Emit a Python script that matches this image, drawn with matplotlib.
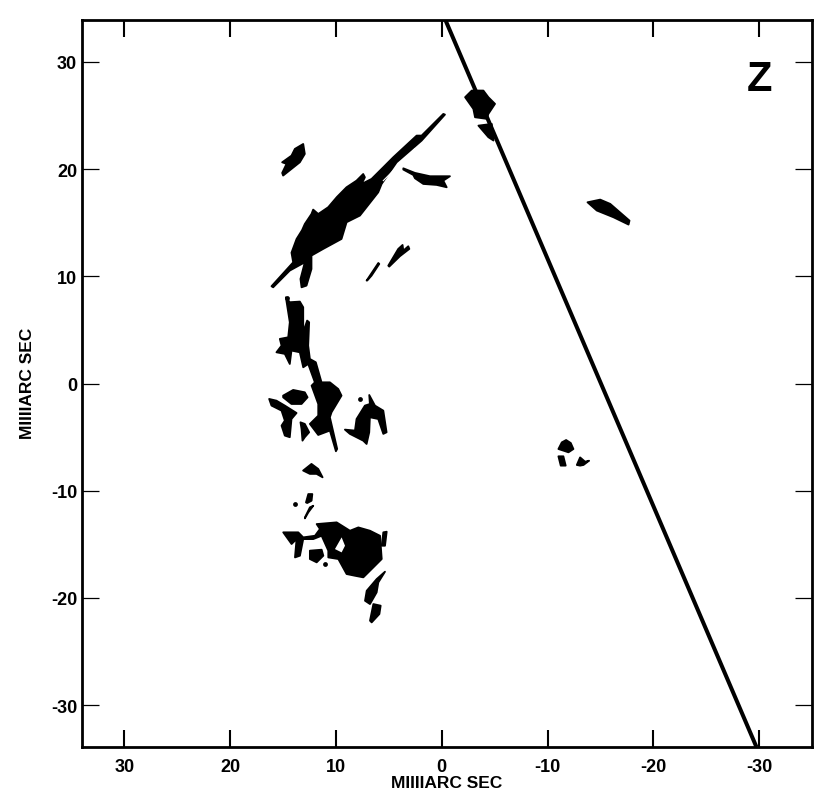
import matplotlib
matplotlib.use("Agg")
import matplotlib.pyplot as plt

plt.rcParams['font.family'] = ['Liberation Sans', 'DejaVu Sans']
plt.rcParams['axes.unicode_minus'] = False

X_TICKS = [30, 20, 10, 0, -10, -20, -30]
Y_TICKS = [30, 20, 10, 0, -10, -20, -30]
X_LIMITS = (34.0, -35.0)
Y_LIMITS = (-33.9, 33.9)
X_LABEL = "MIIIIARC SEC"
Y_LABEL = "MIIIIARC SEC"
PANEL = "Z"

LINE_X = [-0.35, -29.75]
LINE_Y = [33.9, -33.9]

jet = [(16.09,9.07),(14.04,11.30),(14.2,12.2),(13.72,13.48),(13.2,14.3),(12.94,14.88),(12.31,15.81),(12.15,16.22),(11.67,15.81),
       (10.73,16.44),(9.9,17.4),(9.0,18.3),(8.05,18.92),(7.42,19.54),(7.26,19.23),(7.57,18.61),(6.63,19.08),(5.52,20.17),
       (4.58,21.1),(2.37,23.12),(1.90,23.12),(-0.15,25.14),(-0.31,25.08),(1.90,22.65),(4.26,20.63),(5.68,18.61),
       (6.0,17.83),(7.73,15.66),(8.99,15.04),(9.47,13.48),(11.2,12.55),(12.31,11.93),(12.31,10.68),(12.78,9.13),
       (13.25,8.97),(13.35,9.75),(12.94,11.3),(14.36,10.53),(15.93,8.97)]
jet_upper_left = [(13.09,22.34),(12.94,21.41),(13.41,20.63),(14.2,20.01),(14.99,19.39),(15.08,19.64),(14.67,20.48),
                  (15.08,20.63),(14.2,21.25),(13.88,21.88)]
streak_right = [(3.63,20.07),(2.53,19.64),(1.11,19.33),(-0.78,19.33),(-0.15,18.92),(-0.47,18.3),(0.48,18.52),
                (1.74,18.61),(2.53,19.14),(2.69,19.45),(3.63,19.95)]
streak_a = [(7.10,9.60),(5.99,11.24),(5.90,11.15),(6.63,10.06),(7.04,9.6)]
streak_b = [(5.05,10.99),(4.11,12.55),(3.7,12.92),(3.63,12.39),(3.16,12.8),(3.06,12.55),(3.95,11.87),(4.96,10.9)]
column = [(14.73,8.04),(14.36,7.58),(13.41,7.64),(13.09,7.11),(13.09,4.78),(12.72,5.87),(12.53,5.71),(12.62,3.53),
          (12.46,2.29),(11.9,1.98),(11.36,0.11),(10.57,0.11),(9.78,-0.51),(9.47,-1.13),(10.41,-2.68),(10.57,-3.15),
          (9.88,-6.1),(10.0,-6.32),(10.57,-4.39),(11.67,-4.8),(12.46,-3.77),(11.67,-3.0),(11.67,-1.91),(12.3,-0.2),
          (11.99,0.11),(12.62,1.82),(13.09,1.51),(13.41,2.91),(14.2,3.07),(14.36,1.82),(14.83,2.76),(15.62,2.91),
          (15.14,3.53),(15.3,4.16),(14.51,4.31),(14.36,5.71)]
oval = [(14.99,-1.13),(14.04,-0.6),(12.94,-0.82),(12.68,-1.29),(13.25,-1.91),(14.2,-1.91),(14.99,-1.29)]
left_blob = [(16.31,-1.44),(15.62,-1.6),(14.83,-2.06),(13.72,-2.75),(14.2,-3.31),(14.36,-5.01),(14.83,-4.86),
             (15.14,-3.93),(14.83,-3.46),(15.14,-2.53),(16.09,-2.06)]
small_mid = [(13.35,-3.62),(12.94,-3.77),(12.53,-4.55),(12.94,-5.01),(13.16,-5.33),(13.25,-4.24)]
right_cluster = [(9.15,-4.3),(8.2,-4.39),(8.05,-3.31),(7.26,-2.06),(6.79,-1.91),(6.85,-1.07),(6.31,-2.06),(5.52,-2.53),
                 (5.21,-4.55),(5.52,-4.7),(6.0,-3.31),(6.79,-3.15),(6.85,-4.55),(7.1,-5.64),(7.42,-5.33),(8.68,-4.7)]
knot_8 = [(13.1,-8.12),(12.31,-7.5),(11.67,-7.97),(11.26,-8.75),(11.83,-8.43),(12.46,-8.43)]
south = [(11.82,-13.11),(9.93,-12.95),(8.67,-13.73),(7.88,-13.42),(6.78,-13.73),(5.83,-14.2),(5.67,-16.37),(6.46,-17.15),
         (7.41,-18.08),(8.2,-17.93),(8.99,-17.77),(9.77,-16.37),(10.72,-16.22),(10.72,-15.59),(11.35,-14.2),(12.14,-14.51),
         (13.09,-14.51),(13.4,-16.06),(13.87,-16.22),(13.72,-14.51),(14.19,-14.97),(14.98,-13.88),(13.56,-13.88),
         (13.09,-14.35),(11.98,-14.2),(11.51,-13.57)]
south_b = [(12.46,-15.59),(11.35,-15.5),(11.19,-16.06),(11.82,-16.68),(12.46,-16.37)]
south_c = [(5.67,-15.13),(5.52,-13.88),(5.2,-13.82),(5.36,-15.13)]
south_d = [(6.15,-18.24),(5.36,-17.55),(5.99,-18.55),(6.15,-19.48),(6.78,-20.57),(7.25,-20.26),(7.09,-19.33)]
south_e = [(6.78,-22.12),(6.46,-20.57),(5.77,-20.72),(5.89,-21.5),(6.62,-22.28)]
south_f = [(12.93,-12.49),(12.46,-11.55),(12.14,-11.4),(12.61,-12.02),(12.93,-12.58)]
south_g = [(12.83,-11.09),(12.61,-10.31),(12.23,-10.31),(12.3,-10.93),(12.71,-11.15)]
east_a = [(-2.21,26.7),(-2.84,27.32),(-3.94,27.32),(-4.41,26.7),(-5.04,26.08),(-4.41,25.14),(-4.26,24.68),(-3.15,24.83),(-2.99,25.61)]
east_b = [(-3.47,24.05),(-4.73,24.21),(-4.89,22.66),(-4.41,22.97)]
east_c = [(-13.78,16.9),(-14.98,17.15),(-15.93,16.75),(-17.75,15.19),(-17.66,14.82),(-16.24,15.5),(-14.66,16.13)]
se_a = [(-11.03,-6.11),(-11.35,-5.49),(-11.76,-5.27),(-12.2,-5.55),(-12.45,-6.11),(-11.98,-6.42),(-11.5,-6.26)]
se_b = [(-11.03,-6.79),(-11.5,-6.79),(-11.72,-7.66),(-11.25,-7.66)]
se_c = [(-12.77,-7.6),(-13.08,-6.89),(-13.55,-7.29),(-13.93,-7.2),(-13.4,-7.6),(-13.08,-7.66)]
BLOBS = [jet, jet_upper_left, streak_right, streak_a, streak_b, column, oval, left_blob, small_mid,
         right_cluster, knot_8, south, south_b, south_c, south_d, south_e, south_f, south_g,
         east_a, east_b, east_c, se_a, se_b, se_c]

gap_south = [(10.09,-15.44),(9.46,-14.35),(9.14,-15.13),(9.46,-15.75)]
gap_east_x = [5.52, 2.53]
gap_east_y = [18.92, 21.9]
DOTS_X = [14.67, 7.73, 13.87, 11.04]
DOTS_Y = [7.98, -1.44, -11.24, -16.84]

W, H = 830, 804
fig = plt.figure(figsize=(W/100, H/100), dpi=100)
ax = fig.add_axes([82/W, 1-748/H, (812-82)/W, (748-21)/H])
ax.set_xlim(*X_LIMITS)
ax.set_ylim(*Y_LIMITS)

for b in BLOBS:
    xs, ys = zip(*b)
    ax.fill(xs, ys, facecolor='black', edgecolor='black', lw=1.3, joinstyle='round', zorder=2)
xs, ys = zip(*gap_south)
ax.fill(xs, ys, color='white', lw=0, zorder=3)
ax.plot(gap_east_x, gap_east_y, color='white', lw=0.8, zorder=3)
ax.scatter(DOTS_X, DOTS_Y, s=12, color='black', lw=0, zorder=2)
ax.plot(LINE_X, LINE_Y, color='black', lw=2.9, solid_capstyle='butt', zorder=2)

for s in ax.spines.values():
    s.set_linewidth(2.0)
ax.set_xticks(X_TICKS)
ax.set_yticks(Y_TICKS)
ax.tick_params(axis='x', direction='in', top=True, bottom=True, length=12.5, width=1.5, pad=8,
               labelsize=13)
ax.tick_params(axis='y', direction='in', left=True, right=True, length=12.5, width=0.9, pad=3.5,
               labelsize=13)
for t in ax.get_xticklabels() + ax.get_yticklabels():
    t.set_fontweight('bold')

ax.text(759/W, 1-80/H, PANEL, transform=fig.transFigure, fontsize=30, fontweight='bold',
        ha='center', va='center')
fig.text(447/W, 1-784/H, X_LABEL, fontsize=12.5, fontweight='bold', ha='center', va='center')
fig.text(28/W, 1-383/H, Y_LABEL, fontsize=12.5, fontweight='bold', ha='center', va='center', rotation=90)

fig.savefig("out.png", dpi=100)
